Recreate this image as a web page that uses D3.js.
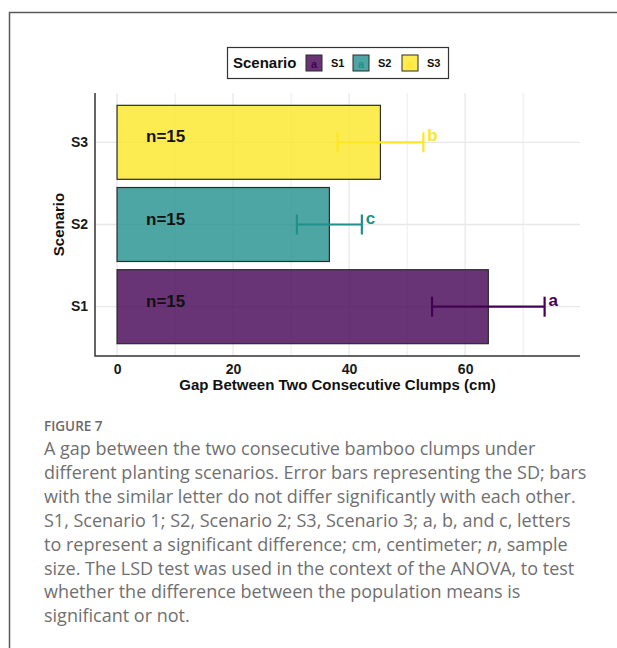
<!DOCTYPE html>
<html>
<head>
<meta charset="utf-8">
<script src="https://cdn.jsdelivr.net/npm/d3@7"></script>
<style>
  body { margin: 0; background: #fff; }
  .axis text { font-family: "Liberation Sans", Arial, sans-serif; font-weight: bold; font-size: 14px; fill: #1a1a1a; }
  .axis path, .axis line { display: none; }
</style>
</head>
<body>
<svg id="chart" width="617" height="648"></svg>
<script>
"use strict";

// values
var scenarios = ['S1', 'S2', 'S3'];
var gap_mean = [64.0, 36.6, 45.4];
var gap_sd = [9.7, 5.6, 7.4];
var sig_letters = ['a', 'c', 'b'];
var sample_n = [15, 15, 15];
var x_ticks = [0, 20, 40, 60];
var x_minor = [10, 30, 50, 70];
var colours = ['#440154', '#21908C', '#FDE725'];

var caption_head = 'FIGURE 7';
var caption_lines = [
  'A gap between the two consecutive bamboo clumps under',
  'different planting scenarios. Error bars representing the SD; bars',
  'with the similar letter do not differ significantly with each other.',
  'S1, Scenario 1; S2, Scenario 2; S3, Scenario 3; a, b, and c, letters',
  'to represent a significant difference; cm, centimeter; |n|, sample',
  'size. The LSD test was used in the context of the ANOVA, to test',
  'whether the difference between the population means is',
  'significant or not.'
];

function draw_chart() {
  var svg = d3.select('#chart');
  var font = '"Liberation Sans", Arial, sans-serif';

  // outer frame (left + top only visible)
  svg.append('path')
    .attr('d', 'M9.5,648 V12.5 H617')
    .attr('fill', 'none')
    .attr('stroke', '#5a5a5a')
    .attr('stroke-width', 1.5);

  var panel = { left: 95, right: 580, top: 93, bottom: 356 };

  var data = scenarios.map(function (s, i) {
    return { s: s, mean: gap_mean[i], sd: gap_sd[i], letter: sig_letters[i], n: sample_n[i], col: colours[i] };
  });

  var xmax = d3.max(data, d => d.mean + d.sd) + 2.3;
  var pad = xmax * 0.05;
  var X = d3.scaleLinear().domain([-pad, xmax + pad]).range([panel.left, panel.right]);
  var Y = d3.scaleBand().domain(scenarios.slice().reverse())
    .range([panel.top, panel.bottom])
    .paddingInner(0.1).paddingOuter(0.15);

  var grid = svg.append('g').attr('class', 'grid');
  grid.selectAll('line.minor').data(x_minor).enter().append('line')
    .attr('x1', d => X(d)).attr('x2', d => X(d))
    .attr('y1', panel.top).attr('y2', panel.bottom)
    .attr('stroke', '#ececec').attr('stroke-width', 1);
  grid.selectAll('line.major').data(x_ticks).enter().append('line')
    .attr('x1', d => X(d)).attr('x2', d => X(d))
    .attr('y1', panel.top).attr('y2', panel.bottom)
    .attr('stroke', '#e8e8e8').attr('stroke-width', 1.3);
  grid.selectAll('line.hz').data(scenarios).enter().append('line')
    .attr('x1', panel.left).attr('x2', panel.right)
    .attr('y1', d => Y(d) + Y.bandwidth() / 2).attr('y2', d => Y(d) + Y.bandwidth() / 2)
    .attr('stroke', '#e8e8e8').attr('stroke-width', 1.3);

  // bars
  svg.append('g').selectAll('rect').data(data).enter().append('rect')
    .attr('x', X(0))
    .attr('y', d => Y(d.s))
    .attr('width', d => X(d.mean) - X(0))
    .attr('height', Y.bandwidth())
    .attr('fill', d => d.col)
    .attr('fill-opacity', 0.8)
    .attr('stroke', '#2b2b2b')
    .attr('stroke-width', 1.2);

  // error bars
  var cap = 10;
  var err = svg.append('g').selectAll('g').data(data).enter().append('g')
    .attr('stroke', d => d.col)
    .attr('stroke-width', 2.2);
  err.append('line')
    .attr('x1', d => X(d.mean - d.sd)).attr('x2', d => X(d.mean + d.sd))
    .attr('y1', d => Y(d.s) + Y.bandwidth() / 2).attr('y2', d => Y(d.s) + Y.bandwidth() / 2);
  err.append('line')
    .attr('x1', d => X(d.mean - d.sd)).attr('x2', d => X(d.mean - d.sd))
    .attr('y1', d => Y(d.s) + Y.bandwidth() / 2 - cap).attr('y2', d => Y(d.s) + Y.bandwidth() / 2 + cap);
  err.append('line')
    .attr('x1', d => X(d.mean + d.sd)).attr('x2', d => X(d.mean + d.sd))
    .attr('y1', d => Y(d.s) + Y.bandwidth() / 2 - cap).attr('y2', d => Y(d.s) + Y.bandwidth() / 2 + cap);

  // significance letters
  svg.append('g').selectAll('text').data(data).enter().append('text')
    .attr('x', d => X(d.mean + d.sd) + 4)
    .attr('y', d => Y(d.s) + Y.bandwidth() / 2 - 1)
    .attr('fill', d => d.col)
    .style('font-family', font).style('font-weight', 'bold').style('font-size', '17px')
    .text(d => d.letter);

  // n labels
  svg.append('g').selectAll('text').data(data).enter().append('text')
    .attr('x', X(5))
    .attr('y', d => Y(d.s) + Y.bandwidth() / 2)
    .attr('fill', '#111')
    .style('font-family', font).style('font-weight', 'bold').style('font-size', '17px')
    .text(d => 'n=' + d.n);

  // axis lines
  svg.append('path')
    .attr('d', 'M' + panel.left + ',' + panel.top + ' V' + panel.bottom + ' H' + panel.right)
    .attr('fill', 'none')
    .attr('stroke', '#333')
    .attr('stroke-width', 1.5);

  svg.append('g')
    .attr('class', 'axis x')
    .attr('transform', 'translate(0,' + panel.bottom + ')')
    .call(d3.axisBottom(X).tickValues(x_ticks).tickSize(0).tickPadding(8));
  svg.append('g')
    .attr('class', 'axis y')
    .attr('transform', 'translate(' + panel.left + ',0)')
    .call(d3.axisLeft(Y).tickSize(0).tickPadding(7));

  svg.append('text')
    .attr('x', (panel.left + panel.right) / 2)
    .attr('y', 390)
    .attr('text-anchor', 'middle')
    .attr('fill', '#111')
    .style('font-family', font).style('font-weight', 'bold').style('font-size', '15px')
    .text('Gap Between Two Consecutive Clumps (cm)');
  svg.append('text')
    .attr('transform', 'translate(63.5,' + (panel.top + panel.bottom) / 2 + ') rotate(-90)')
    .attr('text-anchor', 'middle')
    .attr('fill', '#111')
    .style('font-family', font).style('font-weight', 'bold').style('font-size', '15px')
    .text('Scenario');

  // legend
  var legend = svg.append('g');
  legend.append('rect')
    .attr('x', 227.5).attr('y', 47.5).attr('width', 221).attr('height', 31)
    .attr('fill', '#fff').attr('stroke', '#333').attr('stroke-width', 1.2);
  legend.append('text')
    .attr('x', 233).attr('y', 68)
    .attr('fill', '#111')
    .style('font-family', font).style('font-weight', 'bold').style('font-size', '15px')
    .text('Scenario');
  var key_x = [306, 353, 402];
  var keys = legend.selectAll('g.key').data(data).enter().append('g')
    .attr('transform', (d, i) => 'translate(' + key_x[i] + ',55)');
  keys.append('rect')
    .attr('width', 16).attr('height', 16)
    .attr('fill', d => d.col).attr('fill-opacity', 0.8)
    .attr('stroke', '#2b2b2b').attr('stroke-width', 1);
  keys.append('text')
    .attr('x', 8).attr('y', 13).attr('text-anchor', 'middle')
    .attr('fill', d => d.col)
    .style('font-family', font).style('font-weight', 'bold').style('font-size', '11px')
    .text('a');
  keys.append('text')
    .attr('x', 25).attr('y', 67 - 55)
    .attr('fill', '#111')
    .style('font-family', font).style('font-weight', 'bold').style('font-size', '11px')
    .text(d => d.s);

  // caption
  var cap_font = '"Open Sans", "Noto Sans", sans-serif';
  svg.append('text')
    .attr('x', 44).attr('y', 431)
    .attr('fill', '#6a6a6a')
    .style('font-family', cap_font).style('font-weight', 600).style('font-size', '13.5px')
    .text(caption_head);
  var cap_text = svg.append('g').selectAll('text').data(caption_lines).enter().append('text')
    .attr('x', 44)
    .attr('y', (d, i) => 455 + i * 23.9)
    .attr('fill', '#707070')
    .style('font-family', cap_font).style('font-size', '18px');
  cap_text.each(function (d) {
    var t = d3.select(this);
    d.split('|').forEach(function (part, k) {
      var span = t.append('tspan').text(part);
      if (k % 2 === 1) span.style('font-style', 'italic');
    });
  });
}

draw_chart();
</script>
</body>
</html>
